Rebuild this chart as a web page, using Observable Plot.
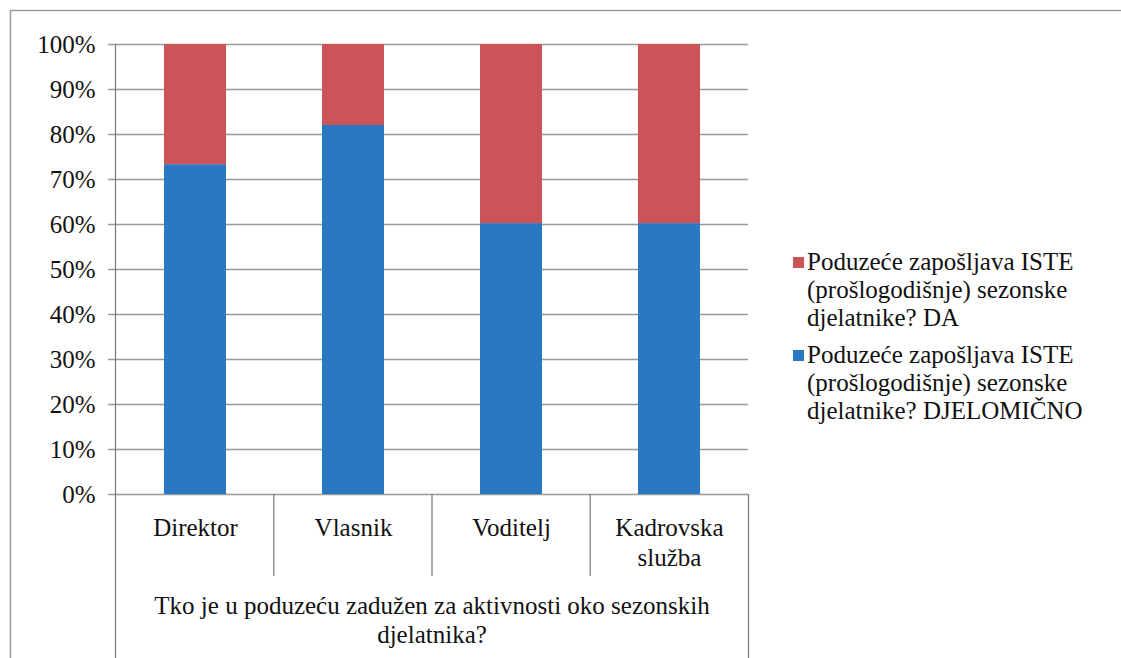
<!DOCTYPE html>
<html>
<head>
<meta charset="utf-8">
<script src="https://cdn.jsdelivr.net/npm/d3@7"></script>
<script src="https://cdn.jsdelivr.net/npm/@observablehq/plot@0.6"></script>
<style>
  html, body { margin: 0; padding: 0; background: #fff; }
  #wrap { position: relative; width: 1121px; height: 658px; overflow: hidden; }
  #legend { position: absolute; left: 793px; top: 248px; font-family: "Liberation Serif", Tinos, "Times New Roman", Times, "DejaVu Serif", serif; font-size: 25px; color: #111; line-height: 28px; }
  .item { position: relative; padding-left: 14px; white-space: pre-line; margin-bottom: 9px; }
  .sw { position: absolute; left: 0; top: 8.5px; width: 11px; height: 11px; }
  svg text { font-family: "Liberation Serif", Tinos, "Times New Roman", Times, "DejaVu Serif", serif; }
</style>
</head>
<body>
<div id="wrap"></div>
<script>
const categories = ["Direktor", "Vlasnik", "Voditelj", "Kadrovska služba"];
const tickLabels = ["Direktor", "Vlasnik", "Voditelj", "Kadrovska\nslužba"];
const seriesNames = [
  "Poduzeće zapošljava ISTE (prošlogodišnje) sezonske djelatnike? DJELOMIČNO",
  "Poduzeće zapošljava ISTE (prošlogodišnje) sezonske djelatnike? DA"
];
const legendLabels = [
  "Poduzeće zapošljava ISTE\n(prošlogodišnje) sezonske\ndjelatnike? DA",
  "Poduzeće zapošljava ISTE\n(prošlogodišnje) sezonske\ndjelatnike? DJELOMIČNO"
];
const djelomicnoValues = [0.733, 0.82, 0.602, 0.602];
const daValues = [0.267, 0.18, 0.398, 0.398];
const yTicks = [0, 0.1, 0.2, 0.3, 0.4, 0.5, 0.6, 0.7, 0.8, 0.9, 1];
const axisTitle = "Tko je u poduzeću zadužen za aktivnosti oko sezonskih\ndjelatnika?";
const colors = ["#2A78C4", "#CC5459"];

const data = [];
categories.forEach((c, i) => data.push({cat: c, series: seriesNames[0], value: djelomicnoValues[i]}));
categories.forEach((c, i) => data.push({cat: c, series: seriesNames[1], value: daValues[i]}));

const W = 1121, H = 658, ML = 115, MR = 373, MT = 44, MB = 164;
const FONT = "'Liberation Serif', Tinos, 'Times New Roman', Times, 'DejaVu Serif', serif";

const frameMark = () => {
  const g = d3.create("svg:g");
  g.append("rect").attr("x", 10.5).attr("y", 10.5).attr("width", 1130).attr("height", 700)
    .attr("fill", "none").attr("stroke", "#9a9a9a").attr("stroke-width", 1.5);
  return g.node();
};

const separators = (index, scales, values, dims) => {
  const g = d3.create("svg:g").attr("stroke", "#777").attr("stroke-width", 1.2);
  const n = categories.length;
  const step = (dims.width - dims.marginLeft - dims.marginRight) / n;
  const y0 = dims.height - dims.marginBottom;
  for (let i = 0; i <= n; i++) {
    const x = dims.marginLeft + i * step + 0.5;
    const yStart = i === 0 ? dims.marginTop : y0;
    const yEnd = (i === 0 || i === n) ? dims.height : y0 + 82;
    g.append("line").attr("x1", x).attr("x2", x).attr("y1", yStart).attr("y2", yEnd);
  }
  return g.node();
};

const chart = Plot.plot({
  width: W, height: H,
  marginLeft: ML, marginRight: MR, marginTop: MT, marginBottom: MB,
  style: {fontFamily: FONT, fontSize: "25px", color: "#111", background: "transparent", overflow: "visible"},
  x: {domain: categories, paddingInner: 0.61, paddingOuter: 0.305, label: null},
  y: {domain: [0, 1], label: null},
  color: {domain: seriesNames, range: colors},
  marks: [
    frameMark,
    Plot.ruleY(yTicks, {stroke: "#999", strokeWidth: 1.6, insetLeft: -7}),
    Plot.barY(data, Plot.stackY({x: "cat", y: "value", fill: "series", order: seriesNames})),
    separators,
    Plot.axisY({ticks: yTicks, tickFormat: d3.format(".0%"), tickSize: 0, tickPadding: 20, fontSize: 25, fill: "#111"}),
    Plot.axisX({tickSize: 0, tickPadding: 21, tickFormat: (d) => tickLabels[categories.indexOf(d)], fontSize: 25, fill: "#111", lineHeight: 1.18}),
    Plot.text([axisTitle], {frameAnchor: "bottom", lineAnchor: "top", dy: 99, fontSize: 25, fill: "#111", lineHeight: 1.16})
  ]
});

const wrap = document.getElementById("wrap");
wrap.appendChild(chart);

const legend = document.createElement("div");
legend.id = "legend";
[[legendLabels[0], colors[1]], [legendLabels[1], colors[0]]].forEach(([t, c]) => {
  const it = document.createElement("div");
  it.className = "item";
  const sw = document.createElement("span");
  sw.className = "sw";
  sw.style.background = c;
  it.appendChild(sw);
  it.appendChild(document.createTextNode(t));
  legend.appendChild(it);
});
wrap.appendChild(legend);
</script>
</body>
</html>
